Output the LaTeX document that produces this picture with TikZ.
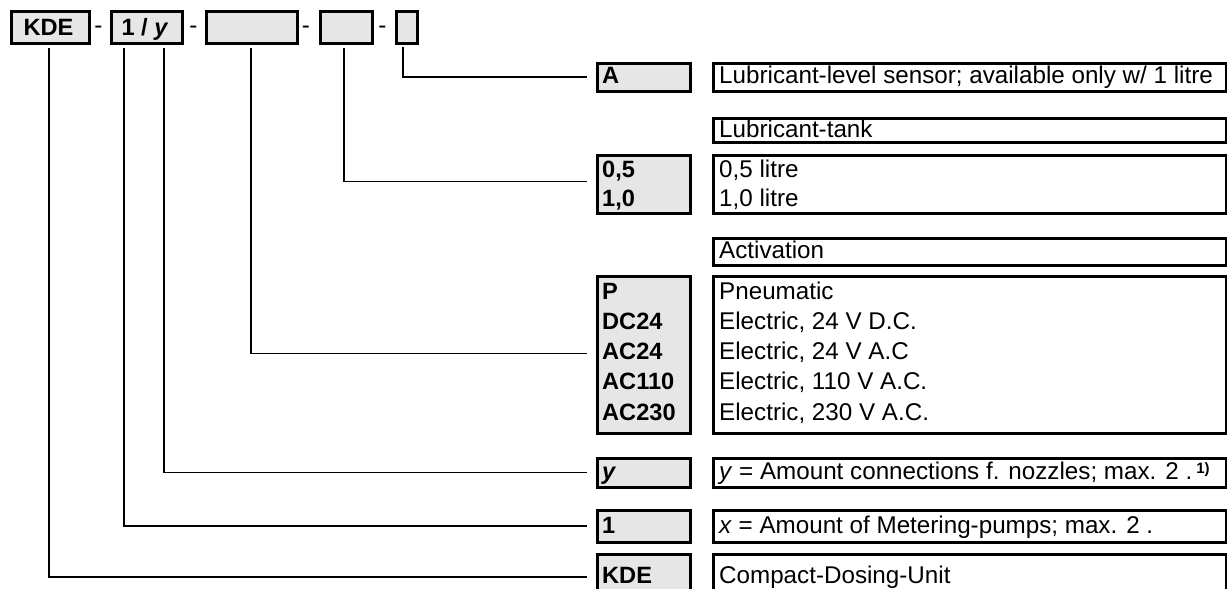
\documentclass[tikz,border=0pt]{standalone}
\usepackage{fontspec}
\setmainfont{Liberation Sans}
\newcommand\dfont{\fontsize{24.2}{28}\selectfont}
\newcommand\cfont{\fontsize{23.6}{28}\selectfont\bfseries}
\definecolor{boxgray}{RGB}{230,230,230}
\begin{document}
\begin{tikzpicture}[x=1pt,y=-1pt,
  frame/.style={draw=black, line width=3pt, inner sep=0pt, anchor=north west},
  gbox/.style={frame, fill=boxgray, minimum width=93pt},
  dbox/.style={frame, fill=white, minimum width=513pt},
  txt/.style={inner sep=0pt, anchor=base west, font=\dfont},
  code/.style={inner sep=0pt, anchor=base west, font=\cfont},
  ctxt/.style={inner sep=0pt, anchor=base, font=\cfont},
  conn/.style={draw=black, line width=1.6pt}]
\clip (0,0) rectangle (1227,589);
\fill[white] (0,0) rectangle (1227,589);
% top code row
\node[frame, fill=boxgray, minimum width=78pt, minimum height=32pt] (t1) at (9.5,9.5) {};
\node[frame, fill=boxgray, minimum width=71pt, minimum height=32pt] (t2) at (109.5,9.5) {};
\node[frame, fill=boxgray, minimum width=91pt, minimum height=32pt] (t3) at (204.5,9.5) {};
\node[frame, fill=boxgray, minimum width=52pt, minimum height=32pt] (t4) at (318.5,9.5) {};
\node[frame, fill=boxgray, minimum width=21pt, minimum height=32pt] (t5) at (394.5,9.5) {};
\node[ctxt] (t1t) at (48.5,35) {KDE};
\node[ctxt] (t2t) at (145,35) {1 / \textit{y}};
\node[inner sep=0pt, anchor=base, font=\dfont] (d1) at (98.5,33) {-};
\node[inner sep=0pt, anchor=base, font=\dfont] (d2) at (193.5,33) {-};
\node[inner sep=0pt, anchor=base, font=\dfont] (d3) at (306,33) {-};
\node[inner sep=0pt, anchor=base, font=\dfont] (d4) at (382.5,33) {-};
% gray code boxes
\node[gbox, minimum height=28pt] (gA) at (595.5,61.5) {};
\node[gbox, minimum height=58pt] (g05) at (595.5,153.5) {};
\node[gbox, minimum height=157pt] (gP) at (595.5,274.5) {};
\node[gbox, minimum height=29pt] (gy) at (595.5,456.5) {};
\node[gbox, minimum height=32pt] (g1) at (595.5,508.5) {};
\node[gbox, minimum height=46pt] (gK) at (595.5,552.5) {};
% description boxes
\node[dbox, minimum height=28pt] (dA) at (711.5,61.5) {};
\node[dbox, minimum height=24pt] (hLT) at (711.5,116.5) {};
\node[dbox, minimum height=58pt] (d05) at (711.5,153.5) {};
\node[dbox, minimum height=27pt] (hAct) at (711.5,236.5) {};
\node[dbox, minimum height=157pt] (dP) at (711.5,274.5) {};
\node[dbox, minimum height=29pt] (dy) at (711.5,456.5) {};
\node[dbox, minimum height=32pt] (d1b) at (711.5,508.5) {};
\node[dbox, minimum height=46pt] (dK) at (711.5,552.5) {};
% code texts
\node[code] at (602,83) {A};
\node[code] at (602,177) {0,5};
\node[code] at (602,206.5) {1,0};
\node[code] at (602,299) {P};
\node[code] at (602,329.3) {DC24};
\node[code] at (602,359.5) {AC24};
\node[code] at (602,389.8) {AC110};
\node[code] at (602,420) {AC230};
\node[code] at (602,479.5) {\textit{y}};
\node[code] at (602,533) {1};
\node[code] at (602,583.5) {KDE};
% description texts
\node[txt] at (719,83) {Lubricant-level sensor; available only w/ 1 litre};
\node[txt] at (719,137) {Lubricant-tank};
\node[txt] at (719,177) {0,5 litre};
\node[txt] at (719,206.5) {1,0 litre};
\node[txt] at (719,258.5) {Activation};
\node[txt] at (719,299) {Pneumatic};
\node[txt] at (719,329.3) {Electric, 24 V D.C.};
\node[txt] at (719,359.5) {Electric, 24 V A.C};
\node[txt] at (719,389.8) {Electric, 110 V A.C.};
\node[txt] at (719,420) {Electric, 230 V A.C.};
\node[txt] at (719,479.5) {\textit{y} = Amount connections f. nozzles; max. 2 .\,\raisebox{0.5ex}{\fontsize{15}{15}\selectfont\bfseries 1)}};
\node[txt] at (719,533) {\textit{x} = Amount of Metering-pumps; max. 2 .};
\node[txt] at (719,583.5) {Compact-Dosing-Unit};
% connector start points below the code row
\coordinate (s1) at (49,48);
\coordinate (s2) at (124,48);
\coordinate (s3) at (164,48);
\coordinate (s4) at (251,48);
\coordinate (s5) at (344,48);
\coordinate (s6) at (403,47);
\draw[conn] (s6) |- ([xshift=-9pt]gA.west);
\draw[conn] (s5) |- ([xshift=-9pt,yshift=2.5pt]g05.west);
\draw[conn] (s4) |- ([xshift=-9pt,yshift=1pt]gP.west);
\draw[conn] (s3) |- ([xshift=-9pt]gy.west);
\draw[conn] (s2) |- ([xshift=-9pt]g1.west);
\draw[conn] (s1) |- ([xshift=-9pt]gK.west);
\end{tikzpicture}
\end{document}
